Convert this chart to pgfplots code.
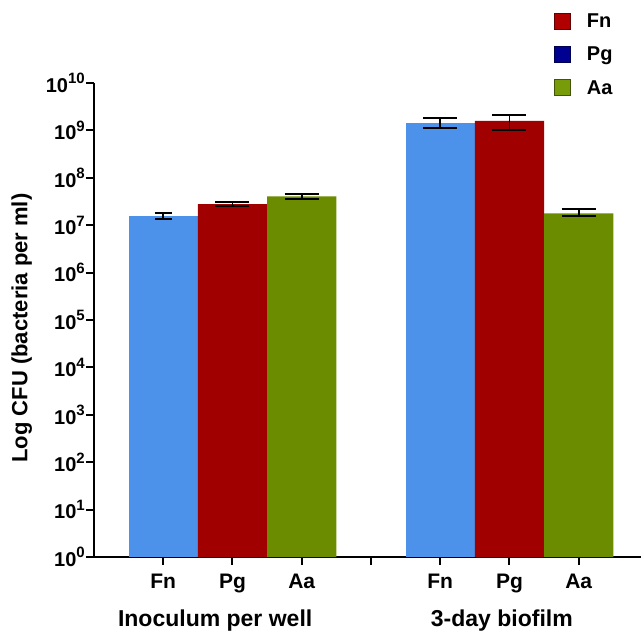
\documentclass[border=0pt]{standalone}
\usepackage{pgfplots}
\pgfplotsset{compat=1.18}
\usepackage{fontspec}
\setmainfont{Liberation Sans}
\definecolor{cfn}{RGB}{76,145,234}
\definecolor{cpg}{RGB}{160,0,0}
\definecolor{caa}{RGB}{108,140,0}
\definecolor{lfn}{RGB}{176,0,0}
\definecolor{lpg}{RGB}{0,0,145}
\definecolor{laa}{RGB}{120,155,10}
\newcommand{\tl}[1]{10\raisebox{0.42em}{\fontsize{15}{15}\selectfont\bfseries #1}}
\begin{document}
\begin{tikzpicture}
\begin{axis}[
  scale only axis, width=547pt, height=474pt,
  ymode=log, ymin=1, ymax=1e10, xmin=-1, xmax=6.9,
  axis lines=left, axis line style={-, line width=2pt},
  tick align=outside, major tick length=8pt,
  tick style={black, line width=2pt},
  minor tick num=0, yminorticks=false,
  xtick={0,1,2,3,4,5,6},
  xticklabels={Fn,Pg,Aa,,Fn,Pg,Aa},
  ytick={1,1e1,1e2,1e3,1e4,1e5,1e6,1e7,1e8,1e9,1e10},
  yticklabels={\tl{0},\tl{1},\tl{2},\tl{3},\tl{4},\tl{5},\tl{6},\tl{7},\tl{8},\tl{9},\tl{10}},
  yticklabel style={font=\fontsize{20}{20}\selectfont\bfseries, inner xsep=1pt},
  xticklabel style={font=\fontsize{21}{21}\selectfont\bfseries, yshift=-6pt},
  clip=false,
  legend style={at={(0.835,1.155)}, anchor=north west, draw=none, fill=none,
    font=\fontsize{20}{20}\selectfont\bfseries, row sep=14pt,
    nodes={inner xsep=4pt}},
  legend cell align=left,
]
\pgfplotsset{
  errstyle/.style={error bars/.cd, y dir=both, y explicit,
    error bar style={line width=1.8pt, black},
    error mark options={rotate=90, mark size=#1, line width=1.8pt, black}},
}
% Fn
\addplot[ybar, bar width=1, bar shift=0pt, fill=cfn, draw=none, forget plot, errstyle=8.5pt]
  table[x=x, y=y, y error plus=ep, y error minus=em] {
x y ep em
0 1.56e7 0.28e7 0.19e7
};
\addplot[ybar, bar width=1, bar shift=0pt, fill=cfn, draw=none, forget plot, errstyle=17pt]
  table[x=x, y=y, y error plus=ep, y error minus=em] {
x y ep em
4 1.45e9 0.35e9 0.31e9
};
% Pg
\addplot[ybar, bar width=1, bar shift=0pt, fill=cpg, draw=none, forget plot, errstyle=17pt]
  table[x=x, y=y, y error plus=ep, y error minus=em] {
x y ep em
1 2.80e7 0.33e7 0.22e7
5 1.58e9 0.50e9 0.545e9
};
% Aa
\addplot[ybar, bar width=1, bar shift=0pt, fill=caa, draw=none, forget plot, errstyle=17pt]
  table[x=x, y=y, y error plus=ep, y error minus=em] {
x y ep em
2 4.07e7 0.48e7 0.50e7
6 1.78e7 0.38e7 0.24e7
};
\addlegendimage{legend image code/.code={\draw[fill=lfn, draw=lfn!55!black, line width=1pt] (0pt,-8pt) rectangle (16pt,8pt);}}
\addlegendentry{\hspace{12pt}Fn}
\addlegendimage{legend image code/.code={\draw[fill=lpg, draw=lpg!55!black, line width=1pt] (0pt,-8pt) rectangle (16pt,8pt);}}
\addlegendentry{\hspace{12pt}Pg}
\addlegendimage{legend image code/.code={\draw[fill=laa, draw=laa!55!black, line width=1pt] (0pt,-8pt) rectangle (16pt,8pt);}}
\addlegendentry{\hspace{12pt}Aa}
\node[font=\fontsize{23}{23}\selectfont\bfseries] at (axis cs:0.75,1) [yshift=-64pt] {Inoculum per well};
\node[font=\fontsize{23}{23}\selectfont\bfseries] at (axis cs:4.89,1) [yshift=-64pt] {3-day biofilm};
\node[rotate=90, font=\fontsize{22}{22}\selectfont\bfseries] at (rel axis cs:-0.132,0.483) {Log CFU (bacteria per ml)};
\end{axis}
\pgfresetboundingbox
\path ([shift={(-94pt,-78pt)}]current axis.south west) rectangle ([shift={(0pt,83pt)}]current axis.north east);
\end{tikzpicture}
\end{document}
